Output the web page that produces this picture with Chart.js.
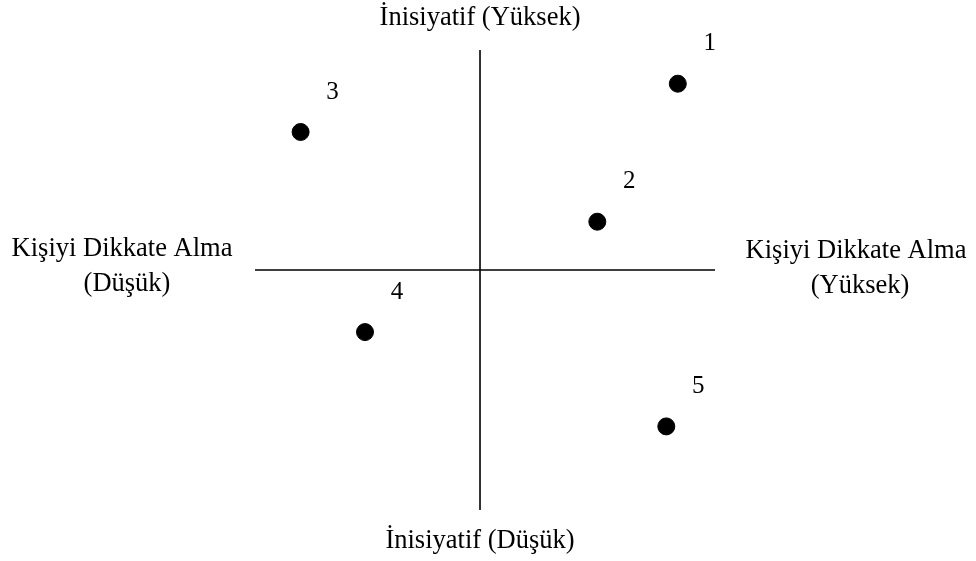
<!DOCTYPE html>
<html>
<head>
<meta charset="utf-8">
<script src="https://cdn.jsdelivr.net/npm/chart.js@4/dist/chart.umd.min.js"></script>
<style>
html,body{margin:0;padding:0;background:#fff;}
#wrap{width:976px;height:561px;position:relative;}
</style>
</head>
<body>
<div id="wrap"><canvas id="c" width="976" height="561"></canvas></div>
<script>
// Point labels and coordinates (Kişiyi Dikkate Alma = x, İnisiyatif = y)
const pointLabels = ["1", "2", "3", "4", "5"];
const xValues = [8.6, 5.1, -7.8, -5.0, 8.1];
const yValues = [8.1, 2.1, 6.0, -2.7, -6.8];
const axisTop = "İnisiyatif (Yüksek)";
const axisBottom = "İnisiyatif (Düşük)";
const axisLeft = ["Kişiyi Dikkate Alma", "(Düşük)"];
const axisRight = ["Kişiyi Dikkate Alma", "(Yüksek)"];

const FONT = '26.5px "Liberation Serif", "Times New Roman", serif';
const DIGIT_FONT = '25px "Liberation Serif", "Times New Roman", serif';

const quadrantPlugin = {
  id: 'quadrant',
  beforeDatasetsDraw(chart) {
    const ctx = chart.ctx;
    const xs = chart.scales.x, ys = chart.scales.y;
    const x0 = xs.getPixelForValue(0), y0 = ys.getPixelForValue(0);
    ctx.save();
    ctx.strokeStyle = '#000';
    ctx.lineWidth = 1.6;
    ctx.beginPath();
    ctx.moveTo(xs.left, y0); ctx.lineTo(xs.right, y0);
    ctx.moveTo(x0, ys.top); ctx.lineTo(x0, ys.bottom);
    ctx.stroke();
    ctx.restore();
  },
  afterDatasetsDraw(chart) {
    const ctx = chart.ctx;
    const xs = chart.scales.x, ys = chart.scales.y;
    const x0 = xs.getPixelForValue(0), y0 = ys.getPixelForValue(0);
    ctx.save();
    ctx.fillStyle = '#000';
    ctx.font = FONT;
    ctx.textAlign = 'center';
    ctx.textBaseline = 'middle';
    ctx.fillText(axisTop, x0, ys.top - 32);
    ctx.fillText(axisBottom, x0, ys.bottom + 31);
    ctx.fillText(axisLeft[0], xs.left - 133, y0 - 21);
    ctx.fillText(axisLeft[1], xs.left - 128, y0 + 14);
    ctx.fillText(axisRight[0], xs.right + 141, y0 - 19);
    ctx.fillText(axisRight[1], xs.right + 145, y0 + 16);
    ctx.font = DIGIT_FONT;
    const meta = chart.getDatasetMeta(0);
    meta.data.forEach((pt, i) => {
      ctx.fillText(pointLabels[i], pt.x + 32, pt.y - 40);
    });
    ctx.restore();
  }
};

new Chart(document.getElementById('c'), {
  type: 'scatter',
  data: {
    datasets: [{
      data: xValues.map((x, i) => ({ x: x, y: yValues[i] })),
      backgroundColor: '#000',
      borderColor: '#000',
      pointRadius: 8.5,
      pointHoverRadius: 8.5
    }]
  },
  options: {
    responsive: false,
    animation: false,
    layout: { padding: { left: 255, right: 261, top: 50, bottom: 51 } },
    plugins: { legend: { display: false }, tooltip: { enabled: false } },
    scales: {
      x: { type: 'linear', min: -9.783, max: 10.217, display: false },
      y: { type: 'linear', min: -10.435, max: 9.565, display: false }
    }
  },
  plugins: [quadrantPlugin]
});
</script>
</body>
</html>
